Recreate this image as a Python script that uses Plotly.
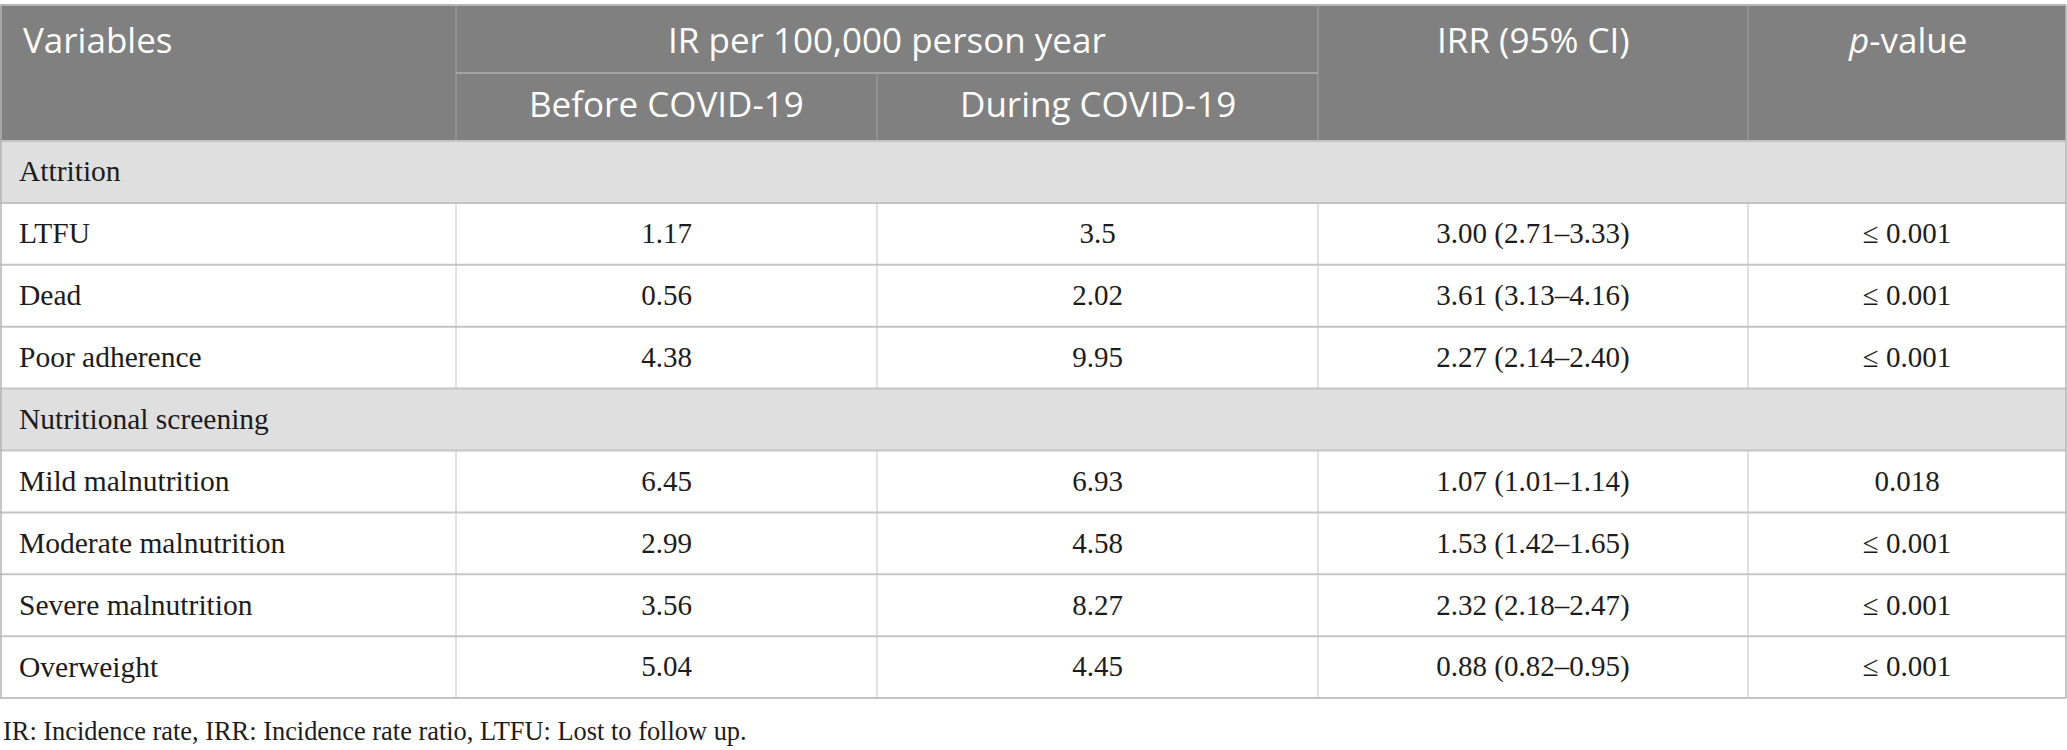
import plotly.graph_objects as go

# ---------------- data ----------------
sections = ["Attrition", "Nutritional screening"]
section_sizes = [3, 4]
variables = ["LTFU", "Dead", "Poor adherence", "Mild malnutrition",
             "Moderate malnutrition", "Severe malnutrition", "Overweight"]
ir_before = ["1.17", "0.56", "4.38", "6.45", "2.99", "3.56", "5.04"]
ir_during = ["3.5", "2.02", "9.95", "6.93", "4.58", "8.27", "4.45"]
irr_ci = ["3.00 (2.71–3.33)", "3.61 (3.13–4.16)", "2.27 (2.14–2.40)",
          "1.07 (1.01–1.14)", "1.53 (1.42–1.65)", "2.32 (2.18–2.47)",
          "0.88 (0.82–0.95)"]
p_values = ["≤ 0.001", "≤ 0.001", "≤ 0.001", "0.018", "≤ 0.001",
            "≤ 0.001", "≤ 0.001"]
header_top = ["Variables", "IR per 100,000 person year", "IRR (95% CI)",
              "<i>p</i>-value"]
header_sub = ["Before COVID-19", "During COVID-19"]
footnote = "IR: Incidence rate, IRR: Incidence rate ratio, LTFU: Lost to follow up."

# ---------------- layout constants ----------------
W, H = 2067, 750
COL = [0, 456, 877, 1318, 1748, 2066]
HEAD_TOP, HEAD_MID, HEAD_BOT = 5, 73, 141
ROW_H = 61.9
PAD = 19
TEXT_DY = 2

HEAD_BG = "#7f807f"
HEAD_LINE = "#a3a4a3"
SECTION_BG = "#e0dfe0"
GRID = "#c4c4c4"
TEXT = "#1c1c1c"
SANS = "Open Sans, Noto Sans, sans-serif"
SERIF = "Liberation Serif, Times New Roman, serif"
BODY_SIZE = 29.5
VALUE_SIZE = 29
HEAD_SIZE = 35

# build row sequence
rows = []
k = 0
for name, n in zip(sections, section_sizes):
    rows.append(("section", name))
    for _ in range(n):
        rows.append(("data", k))
        k += 1

def row_top(i):
    return HEAD_BOT + i * ROW_H

n_rows = len(rows)
table_bottom = row_top(n_rows)

shapes = []
shapes.append(dict(type="rect", x0=COL[0], x1=COL[-1], y0=HEAD_TOP, y1=HEAD_BOT,
                   fillcolor=HEAD_BG, line=dict(width=0), layer="below"))
for i, (kind, _) in enumerate(rows):
    if kind == "section":
        shapes.append(dict(type="rect", x0=COL[0], x1=COL[-1], y0=row_top(i),
                           y1=row_top(i + 1), fillcolor=SECTION_BG,
                           line=dict(width=0), layer="below"))

# header lines
for j, xv in enumerate(COL[1:-1], start=1):
    y0 = HEAD_MID if j == 2 else HEAD_TOP
    shapes.append(dict(type="line", x0=xv, x1=xv, y0=y0, y1=HEAD_BOT,
                       line=dict(color=HEAD_LINE, width=1)))
shapes.append(dict(type="line", x0=COL[1], x1=COL[3], y0=HEAD_MID, y1=HEAD_MID,
                   line=dict(color=HEAD_LINE, width=2)))
shapes.append(dict(type="line", x0=COL[0], x1=COL[-1], y0=HEAD_TOP, y1=HEAD_TOP,
                   line=dict(color="#b5b5b5", width=2)))

# body horizontal lines
for i in range(n_rows + 1):
    shapes.append(dict(type="line", x0=COL[0], x1=COL[-1], y0=row_top(i),
                       y1=row_top(i), line=dict(color=GRID, width=2)))
# body vertical lines (data rows only)
for i, (kind, _) in enumerate(rows):
    if kind == "data":
        for xv in COL[1:-1]:
            shapes.append(dict(type="line", x0=xv, x1=xv, y0=row_top(i),
                               y1=row_top(i + 1),
                               line=dict(color=GRID, width=1)))
# outer left/right borders
for xv in (COL[0] + 1, COL[-1]):
    shapes.append(dict(type="line", x0=xv, x1=xv, y0=HEAD_TOP, y1=table_bottom,
                       line=dict(color="#b5b5b5", width=1.5)))

fig = go.Figure()

data_idx = [(i, r[1]) for i, r in enumerate(rows) if r[0] == "data"]
sec_idx = [(i, r[1]) for i, r in enumerate(rows) if r[0] == "section"]
ymid = [row_top(i) + ROW_H / 2 + TEXT_DY for i, _ in data_idx]
order = [d for _, d in data_idx]

fig.add_trace(go.Scatter(
    x=[COL[0] + PAD] * len(sec_idx),
    y=[row_top(i) + ROW_H / 2 + TEXT_DY for i, _ in sec_idx],
    text=[s for _, s in sec_idx], mode="text", textposition="middle right",
    textfont=dict(family=SERIF, size=BODY_SIZE, color=TEXT),
    hoverinfo="skip", showlegend=False))

fig.add_trace(go.Scatter(
    x=[COL[0] + PAD] * len(order), y=ymid,
    text=[variables[d] for d in order], mode="text",
    textposition="middle right",
    textfont=dict(family=SERIF, size=BODY_SIZE, color=TEXT),
    hoverinfo="skip", showlegend=False))

for c, col_vals in enumerate([ir_before, ir_during, irr_ci, p_values], start=1):
    xc = (COL[c] + COL[c + 1]) / 2
    fig.add_trace(go.Scatter(
        x=[xc] * len(order), y=ymid,
        text=[col_vals[d] for d in order], mode="text",
        textposition="middle center",
        textfont=dict(family=SERIF, size=VALUE_SIZE, color=TEXT),
        hoverinfo="skip", showlegend=False))

# header annotations
annotations = []
top_y = 39
sub_y = 103
hfont = dict(family=SANS, size=HEAD_SIZE, color="white")
annotations.append(dict(x=COL[0] + 21, y=top_y, xref="x", yref="y",
                        text=header_top[0], showarrow=False, xanchor="left",
                        yanchor="middle", font=hfont))
annotations.append(dict(x=(COL[1] + COL[3]) / 2, y=top_y, xref="x", yref="y",
                        text=header_top[1], showarrow=False, xanchor="center",
                        yanchor="middle", font=hfont))
for j, c in enumerate([3, 4], start=2):
    annotations.append(dict(x=(COL[c] + COL[c + 1]) / 2, y=top_y, xref="x",
                            yref="y", text=header_top[j], showarrow=False,
                            xanchor="center", yanchor="middle", font=hfont))
for j, c in enumerate([1, 2]):
    annotations.append(dict(x=(COL[c] + COL[c + 1]) / 2, y=sub_y, xref="x",
                            yref="y", text=header_sub[j], showarrow=False,
                            xanchor="center", yanchor="middle", font=hfont))
annotations.append(dict(x=1, y=table_bottom + 33, xref="x", yref="y",
                        text=footnote, showarrow=False, xanchor="left",
                        yanchor="middle",
                        font=dict(family=SERIF, size=26.4, color=TEXT)))

fig.update_layout(
    width=W, height=H, margin=dict(l=0, r=0, t=0, b=0),
    paper_bgcolor="white", plot_bgcolor="white",
    shapes=shapes, annotations=annotations,
    xaxis=dict(range=[0, W], visible=False, fixedrange=True),
    yaxis=dict(range=[H, 0], visible=False, fixedrange=True),
)

fig.write_html(
    "out.html",
    config={"displayModeBar": False},
    post_script="document.body.style.margin='0';document.body.style.overflow='hidden';",
)
